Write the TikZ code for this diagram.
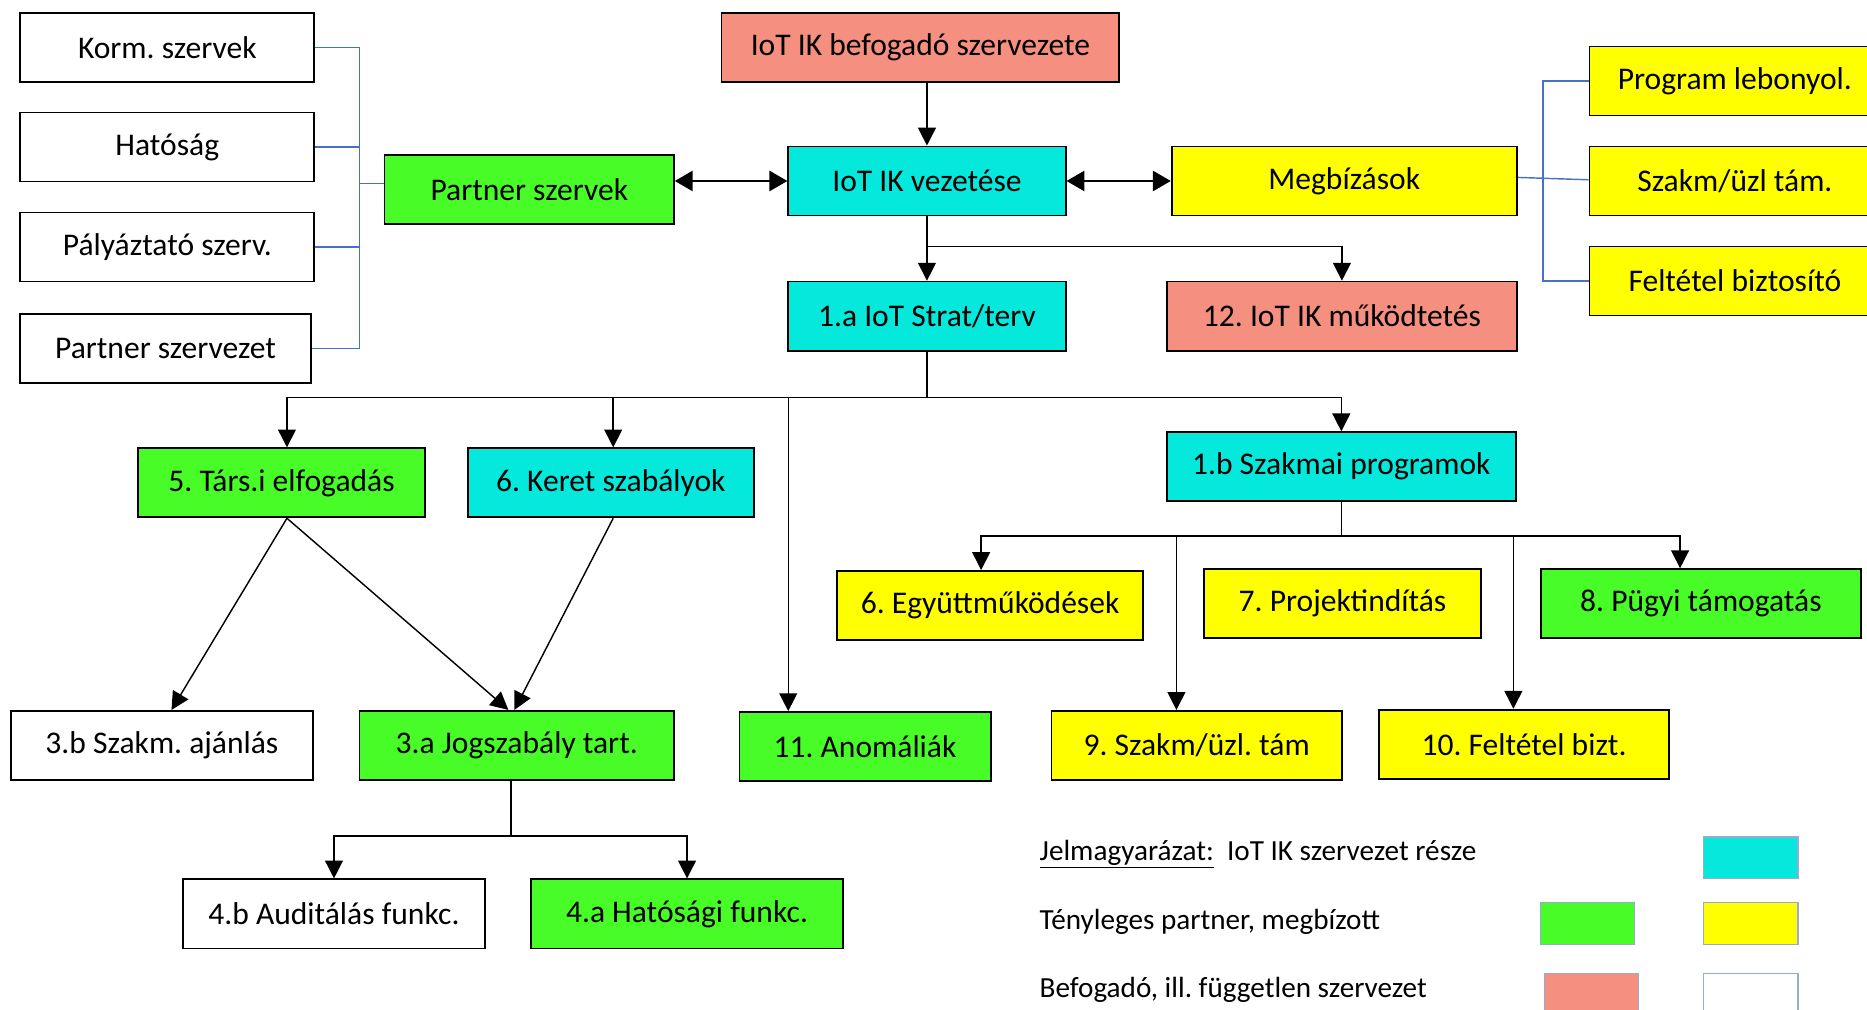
\documentclass[tikz,border=0pt]{standalone}
\usepackage{fontspec}
\setmainfont{Carlito}
\usetikzlibrary{arrows.meta}
\frenchspacing

\definecolor{salmon}{RGB}{245,143,127}
\definecolor{turq}{RGB}{5,232,220}
\definecolor{lgreen}{RGB}{72,252,40}
\definecolor{yell}{RGB}{255,255,0}
\definecolor{bline}{RGB}{68,114,196}
\definecolor{legedge}{RGB}{150,170,210}

\begin{document}
\begin{tikzpicture}[x=1pt,y=-1pt,
  box/.style={draw=black,line width=1.5pt,inner sep=0pt,minimum height=58pt,font=\fontsize{26.5}{30}\selectfont},
  arr/.style={line width=1.2pt,-{Triangle[length=15pt,width=15pt]}},
  dbl/.style={line width=1.5pt,{Triangle[length=15pt,width=17pt]}-{Triangle[length=15pt,width=17pt]}},
  ln/.style={line width=1.2pt},
  brk/.style={draw=bline,line width=1.2pt},
  swatch/.style={draw=legedge,line width=1pt,minimum width=79pt,minimum height=35pt},
  leg/.style={anchor=west,inner sep=0pt,font=\fontsize{24.5}{28}\selectfont}]
  \useasboundingbox (0,0) rectangle (1568,848);
  % partner side
  \node[box,minimum width=247pt] (korm) at (140.5,40) {Korm. szervek};
  \node[box,minimum width=247pt] (hatos) at (140.5,123.5) {Hatóság};
  \node[box,minimum width=247pt] (palya) at (140.5,207.5) {Pályáztató szerv.};
  \node[box,minimum width=244pt] (pszerv) at (139,292.5) {Partner szervezet};
  \node[box,fill=lgreen,minimum width=243pt] (partner) at (444.5,159) {Partner szervek};
  % top
  \node[box,fill=salmon,minimum width=334pt] (befog) at (773,40) {IoT IK befogadó szervezete};
  \node[box,fill=turq,minimum width=233pt] (vez) at (778.5,152) {IoT IK vezetése};
  \node[box,fill=yell,minimum width=290pt] (megb) at (1129,152) {Megbízások};
  \node[box,fill=yell,minimum width=244pt] (prog) at (1457,68) {Program lebonyol.};
  \node[box,fill=yell,minimum width=244pt] (szuzl) at (1457,152) {Szakm/üzl tám.};
  \node[box,fill=yell,minimum width=244pt] (feltb) at (1457,236) {Feltétel biztosító};
  \node[box,fill=turq,minimum width=233pt] (strat) at (778.5,265.5) {1.a IoT Strat/terv};
  \node[box,fill=salmon,minimum width=294pt] (mukod) at (1127,265.5) {12. IoT IK működtetés};
  % middle rows
  \node[box,fill=lgreen,minimum width=241pt] (tars) at (236.5,405.5) {5. Társ.i elfogadás};
  \node[box,fill=turq,minimum width=240pt] (keret) at (513,405.5) {6. Keret szabályok};
  \node[box,fill=turq,minimum width=293pt] (szprog) at (1126.5,392) {1.b Szakmai programok};
  \node[box,fill=yell,minimum width=257pt] (egyutt) at (831.5,508.5) {6. Együttműködések};
  \node[box,fill=yell,minimum width=233pt] (proj) at (1127.5,507) {7. Projektindítás};
  \node[box,fill=lgreen,minimum width=269pt] (pugyi) at (1428.5,507) {8. Pügyi támogatás};
  \node[box,minimum width=254pt] (ajanl) at (136,626) {3.b Szakm. ajánlás};
  \node[box,fill=lgreen,minimum width=264pt] (jog) at (434,626) {3.a Jogszabály tart.};
  \node[box,fill=lgreen,minimum width=211pt] (anom) at (726.5,627) {11. Anomáliák};
  \node[box,fill=yell,minimum width=244pt] (szt9) at (1005,626) {9. Szakm/üzl. tám};
  \node[box,fill=yell,minimum width=244pt] (fb10) at (1280,625) {10. Feltétel bizt.};
  \node[box,minimum width=253pt] (audit) at (280.5,767.5) {4.b Auditálás funkc.};
  \node[box,fill=lgreen,minimum width=262pt] (hatf) at (577,767.5) {4.a Hatósági funkc.};
  % branch points
  \coordinate (j1) at (778.5,207);
  \coordinate (j2) at (778.5,334);
  \coordinate (j3) at (1126.5,450);
  \coordinate (j4) at (429,702);
  \coordinate (bt) at (302,40);
  \coordinate (bb) at (302,292.5);
  \coordinate (ct) at (1296,68);
  \coordinate (cb) at (1296,236);
  % connectors
  \draw[arr] (vez.north |- befog.south) -- (vez);
  \draw[dbl] (partner.east |- vez) -- (vez);
  \draw[dbl] (vez) -- (megb);
  \draw[ln] (vez) -- (j1);
  \draw[arr] (j1) -- (strat);
  \draw[arr] (j1) -| (mukod);
  \draw[ln] (strat) -- (j2);
  \draw[arr] (j2) -| ([xshift=4.5pt]tars.north);
  \draw[arr] (j2) -| ([xshift=2pt]keret.north);
  \draw[arr] (j2) -| (szprog);
  \draw[arr] ([xshift=-64.5pt]anom.north |- j2) -- ([xshift=-64.5pt]anom.north);
  \draw[ln] (szprog) -- (j3);
  \draw[arr] (j3) -| ([xshift=-7.5pt]egyutt.north);
  \draw[arr] (j3) -| ([xshift=-17.5pt]pugyi.north);
  \draw[arr] ([xshift=-17pt]szt9.north |- j3) -- ([xshift=-17pt]szt9.north);
  \draw[arr] ([xshift=-9pt]fb10.north |- j3) -- ([xshift=-9pt]fb10.north);
  \draw[arr] ([xshift=4.5pt]tars.south) -- ([xshift=8pt]ajanl.north);
  \draw[arr] ([xshift=4.5pt]tars.south) -- ([xshift=-7pt]jog.north);
  \draw[arr] ([xshift=2pt]keret.south) -- ([xshift=-2pt]jog.north);
  \draw[ln] ([xshift=-5pt]jog.south) -- (j4);
  \draw[arr] (j4) -| (audit);
  \draw[arr] (j4) -| (hatf);
  % blue brackets
  \draw[brk] (korm) -- (bt) -- (bb) -- (pszerv);
  \draw[brk] (hatos) -- (hatos -| bt);
  \draw[brk] (palya) -- (palya -| bt);
  \draw[brk] ([yshift=5pt]partner.west) -- ([yshift=5pt]partner.west -| bt);
  \draw[brk] (prog) -- (ct) -- (cb) -- (feltb);
  \draw[brk] ([yshift=3pt]megb.east) -- ([yshift=1pt]szuzl.west);
  % legend
  \node[leg] (lg1) at (873,717) {\underline{Jelmagyarázat:}\ \ IoT IK szervezet része};
  \node[leg] (lg2) at (873,774) {Tényleges partner, megbízott};
  \node[leg] (lg3) at (873,831) {Befogadó, ill. független szervezet};
  \node[swatch,fill=turq] (s1) at (1470.5,720.5) {};
  \node[swatch,fill=lgreen] (s2) at (1333.5,775.5) {};
  \node[swatch,fill=yell] (s3) at (1470.5,775.5) {};
  \node[swatch,fill=salmon] (s4) at (1336.5,835) {};
  \node[swatch,fill=white] (s5) at (1470.5,835) {};
\end{tikzpicture}
\end{document}
